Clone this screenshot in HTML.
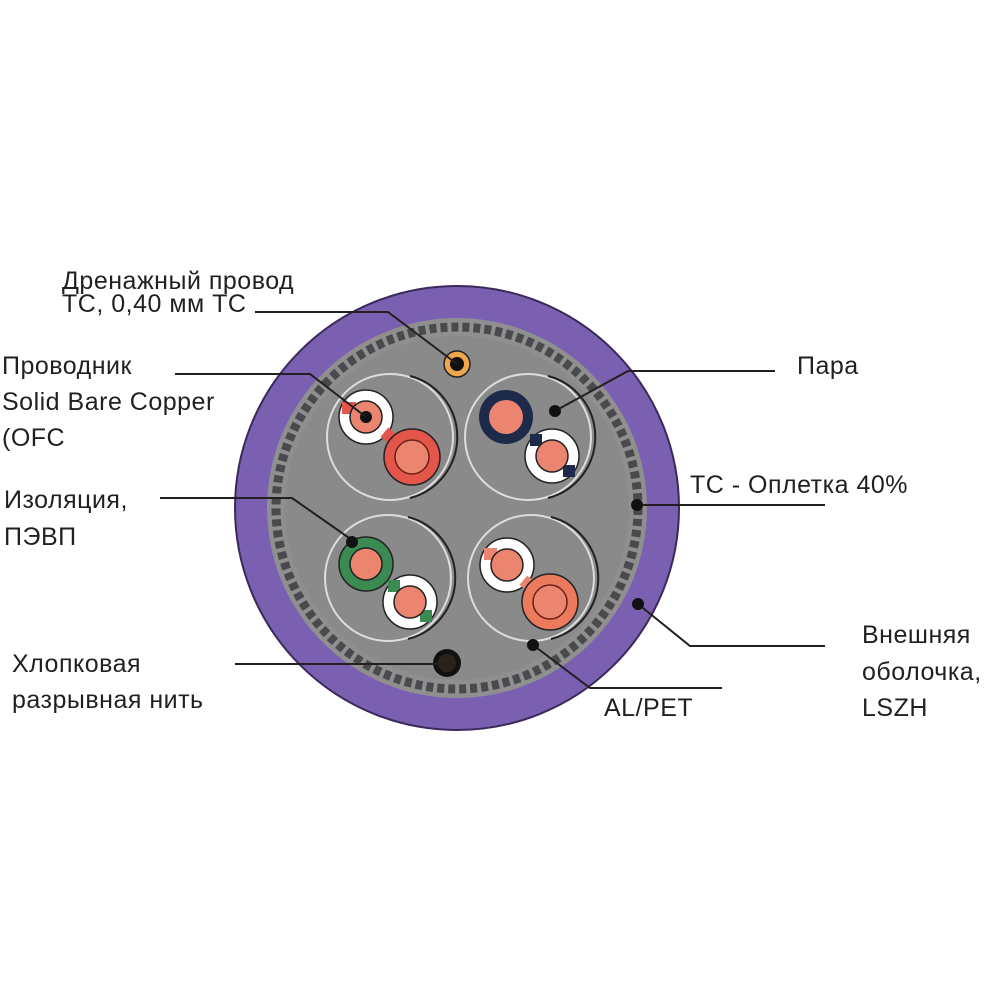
<!DOCTYPE html>
<html><head><meta charset="utf-8"><style>
html,body{margin:0;padding:0;background:#fff}
svg{display:block}
text{font-family:"Liberation Sans","DejaVu Sans",sans-serif;font-size:25px;fill:#231f20;letter-spacing:0.5px}
</style></head><body>
<svg width="1000" height="1000" viewBox="0 0 1000 1000">
<circle cx="457" cy="508" r="222" fill="#7b5fb0" stroke="#3a2a5a" stroke-width="2"/>
<circle cx="457" cy="508" r="190" fill="#8f8f8f"/>
<circle cx="457" cy="508" r="181" fill="none" stroke="#4a4a4e" stroke-width="9" stroke-dasharray="7 4"/>
<circle cx="457" cy="508" r="172" fill="#8a8a8a"/>
<g fill="none" stroke-width="2">
<circle cx="390" cy="437" r="63" stroke="#ddd"/><circle cx="528" cy="437" r="63" stroke="#ddd"/>
<circle cx="388" cy="578" r="63" stroke="#ddd"/><circle cx="531" cy="578" r="63" stroke="#ddd"/>
<path d="M410 376 A63 63 0 0 1 410 498" stroke="#222"/><path d="M548 376 A63 63 0 0 1 548 498" stroke="#222"/>
<path d="M408 517 A63 63 0 0 1 408 639" stroke="#222"/><path d="M551 517 A63 63 0 0 1 551 639" stroke="#222"/>
</g>
<circle cx="457" cy="364" r="13" fill="#f0a64a" stroke="#222" stroke-width="1.5"/><circle cx="457" cy="364" r="7" fill="#111"/>
<circle cx="447" cy="663" r="14" fill="#111"/><circle cx="447" cy="663" r="9" fill="#2a2418"/>
<circle cx="366" cy="417" r="27" fill="#fff" stroke="#222" stroke-width="1.5"/>
<rect x="342" y="402" width="14" height="12" fill="#e4554a"/>
<circle cx="366" cy="417" r="16" fill="#eb8570" stroke="#222" stroke-width="1.5"/><circle cx="366" cy="417" r="6" fill="#111"/>
<rect x="383" y="430" width="12" height="12" fill="#e4554a" transform="rotate(40 389 436)"/>
<circle cx="412" cy="457" r="28" fill="#e4554a" stroke="#222" stroke-width="1.5"/>
<circle cx="412" cy="457" r="17" fill="#eb8570" stroke="#6a2018" stroke-width="1.5"/>
<circle cx="506" cy="417" r="27" fill="#1d2a4a"/><circle cx="506" cy="417" r="17" fill="#eb8570"/>
<circle cx="552" cy="456" r="27" fill="#fff" stroke="#222" stroke-width="1.5"/>
<rect x="530" y="434" width="12" height="12" fill="#1d2a4a"/><rect x="563" y="465" width="12" height="12" fill="#1d2a4a"/>
<circle cx="552" cy="456" r="16" fill="#eb8570" stroke="#222" stroke-width="1.5"/>
<circle cx="366" cy="564" r="27" fill="#3a8a52" stroke="#222" stroke-width="1.5"/><circle cx="366" cy="564" r="16" fill="#eb8570" stroke="#222" stroke-width="1.5"/>
<circle cx="410" cy="602" r="27" fill="#fff" stroke="#222" stroke-width="1.5"/>
<rect x="388" y="580" width="12" height="12" fill="#3a8a52"/><rect x="420" y="610" width="12" height="12" fill="#3a8a52"/>
<circle cx="410" cy="602" r="16" fill="#eb8570" stroke="#222" stroke-width="1.5"/>
<circle cx="507" cy="565" r="27" fill="#fff" stroke="#222" stroke-width="1.5"/>
<rect x="484" y="548" width="13" height="12" fill="#eb8570"/>
<circle cx="507" cy="565" r="16" fill="#eb8570" stroke="#222" stroke-width="1.5"/>
<rect x="522" y="578" width="12" height="12" fill="#eb8570" transform="rotate(40 528 584)"/>
<circle cx="550" cy="602" r="28" fill="#ec7a5c" stroke="#222" stroke-width="1.5"/>
<circle cx="550" cy="602" r="17" fill="#eb8570" stroke="#6a2018" stroke-width="1.5"/>
<g fill="none" stroke="#231f20" stroke-width="2">
<polyline points="255,312 388,312 457,364"/>
<polyline points="175,374 310,374 366,417"/>
<polyline points="160,498 292,498 352,540"/>
<polyline points="235,664 447,664"/>
<polyline points="555,411 628,371 775,371"/>
<polyline points="637,505 825,505"/>
<polyline points="638,604 690,646 825,646"/>
<polyline points="533,645 590,688 722,688"/>
</g>
<g fill="#111">
<circle cx="555" cy="411" r="6"/><circle cx="637" cy="505" r="6"/><circle cx="638" cy="604" r="6"/><circle cx="533" cy="645" r="6"/><circle cx="352" cy="542" r="6"/>
</g>
<text x="62" y="289">Дренажный провод</text>
<text x="62" y="312">TC, 0,40 мм TC</text>
<text x="2" y="374">Проводник</text>
<text x="2" y="410">Solid Bare Copper</text>
<text x="2" y="446">(OFC</text>
<text x="4" y="508">Изоляция,</text>
<text x="4" y="545">ПЭВП</text>
<text x="12" y="672">Хлопковая</text>
<text x="12" y="708">разрывная нить</text>
<text x="797" y="374">Пара</text>
<text x="690" y="493">TC - Оплетка 40%</text>
<text x="862" y="643">Внешняя</text>
<text x="862" y="680">оболочка,</text>
<text x="862" y="716">LSZH</text>
<text x="604" y="716">AL/PET</text>
</svg>
</body></html>
